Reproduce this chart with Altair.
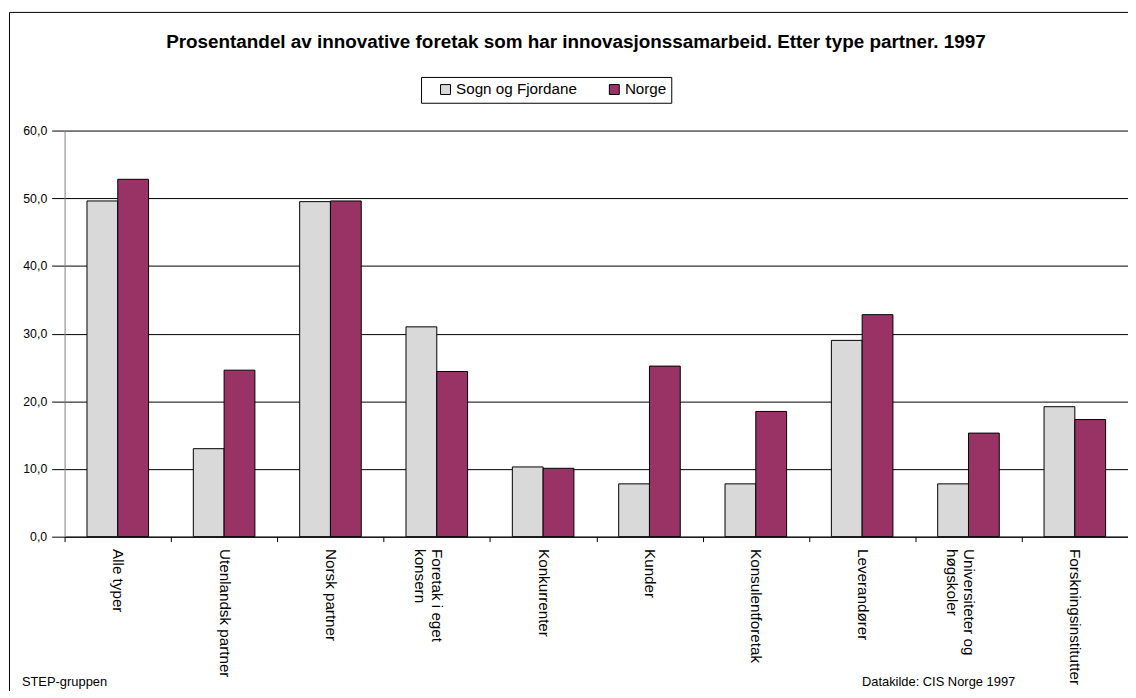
import altair as alt
import pandas as pd

categories = [
    "Alle typer",
    "Utenlandsk partner",
    "Norsk partner",
    "Foretak i eget\nkonsern",
    "Konkurrenter",
    "Kunder",
    "Konsulentforetak",
    "Leverandører",
    "Universiteter og\nhøgskoler",
    "Forskningsinstitutter",
]
series_names = ["Sogn og Fjordane", "Norge"]
sogn_values = [49.6, 13.0, 49.5, 31.0, 10.3, 7.8, 7.8, 29.0, 7.8, 19.2]
norge_values = [52.8, 24.6, 49.6, 24.4, 10.1, 25.2, 18.5, 32.8, 15.3, 17.3]
y_ticks = [0, 10, 20, 30, 40, 50, 60]

title_text = "Prosentandel av innovative foretak som har innovasjonssamarbeid. Etter type partner. 1997"
footer_left = "STEP-gruppen"
footer_right = "Datakilde: CIS Norge 1997"

rows = []
for c, s, n in zip(categories, sogn_values, norge_values):
    rows.append({"kategori": c, "serie": series_names[0], "verdi": s})
    rows.append({"kategori": c, "serie": series_names[1], "verdi": n})
df = pd.DataFrame(rows)

W, H = 1071, 409
FONT = "Liberation Sans"

bars = alt.Chart(df).mark_bar(stroke="black", strokeWidth=1).encode(
    x=alt.X(
        "kategori:N",
        sort=categories,
        scale=alt.Scale(paddingInner=0, paddingOuter=0),
        axis=alt.Axis(
            title=None,
            labelAngle=90,
            labelAlign="left",
            labelBaseline="middle",
            labelPadding=7,
            labelFontSize=15.3,
            labelColor="black",
            labelLimit=400,
            labelExpr="split(datum.label, '\\n')",
            tickBand="extent",
            tickSize=5,
            tickColor="black",
            domainColor="black",
            grid=False,
        ),
    ),
    xOffset=alt.XOffset(
        "serie:N",
        sort=series_names,
        scale=alt.Scale(paddingInner=0, paddingOuter=0.727),
    ),
    y=alt.Y(
        "verdi:Q",
        scale=alt.Scale(domain=[0, 60], nice=False),
        axis=alt.Axis(
            title=None,
            values=y_ticks,
            labelExpr="replace(format(datum.value, '.1f'), '.', ',')",
            labelFontSize=12.4,
            labelColor="black",
            labelPadding=5,
            tickSize=13,
            tickColor="black",
            domainColor="#808080",
            grid=True,
            gridColor="black",
            gridWidth=1,
            gridOpacity=1,
        ),
    ),
    color=alt.Color(
        "serie:N",
        sort=series_names,
        scale=alt.Scale(domain=series_names, range=["#d9d9d9", "#993366"]),
        legend=alt.Legend(
            title=None,
            orient="none",
            legendX=359,
            legendY=-54,
            direction="horizontal",
            columns=2,
            symbolType="square",
            symbolSize=100,
            symbolStrokeColor="black",
            symbolStrokeWidth=1,
            labelFontSize=15.3,
            labelColor="black",
            labelOffset=3,
            columnPadding=18,
            padding=5,
            symbolOffset=12,
            strokeColor="black",
            fillColor="white",
            cornerRadius=0,
        ),
    ),
)

one = alt.Data(values=[{}])

title = alt.Chart(one).mark_text(
    text=title_text, font=FONT, fontSize=19, fontWeight="bold",
    align="center", baseline="alphabetic", color="black",
).encode(x=alt.value(515), y=alt.value(-83))

foot_l = alt.Chart(one).mark_text(
    text=footer_left, font=FONT, fontSize=13, align="left",
    baseline="alphabetic", color="black",
).encode(x=alt.value(-43), y=alt.value(559))

foot_r = alt.Chart(one).mark_text(
    text=footer_right, font=FONT, fontSize=13, align="left",
    baseline="alphabetic", color="black",
).encode(x=alt.value(803), y=alt.value(559))

frame = alt.Chart(one).mark_rect(
    fillOpacity=0, stroke="black", strokeWidth=1
).encode(
    x=alt.value(-55.5), x2=alt.value(W + 100),
    y=alt.value(-119), y2=alt.value(H + 300),
)

chart = alt.layer(frame, bars, title, foot_l, foot_r).properties(
    width=W,
    height=H,
    autosize=alt.AutoSizeParams(type="none"),
    padding={"left": 57, "top": 121, "right": 0, "bottom": 153},
).configure(
    font=FONT,
    background="white",
).configure_view(strokeWidth=0)

chart.save("out.html", embed_options={"renderer": "svg", "actions": False})
